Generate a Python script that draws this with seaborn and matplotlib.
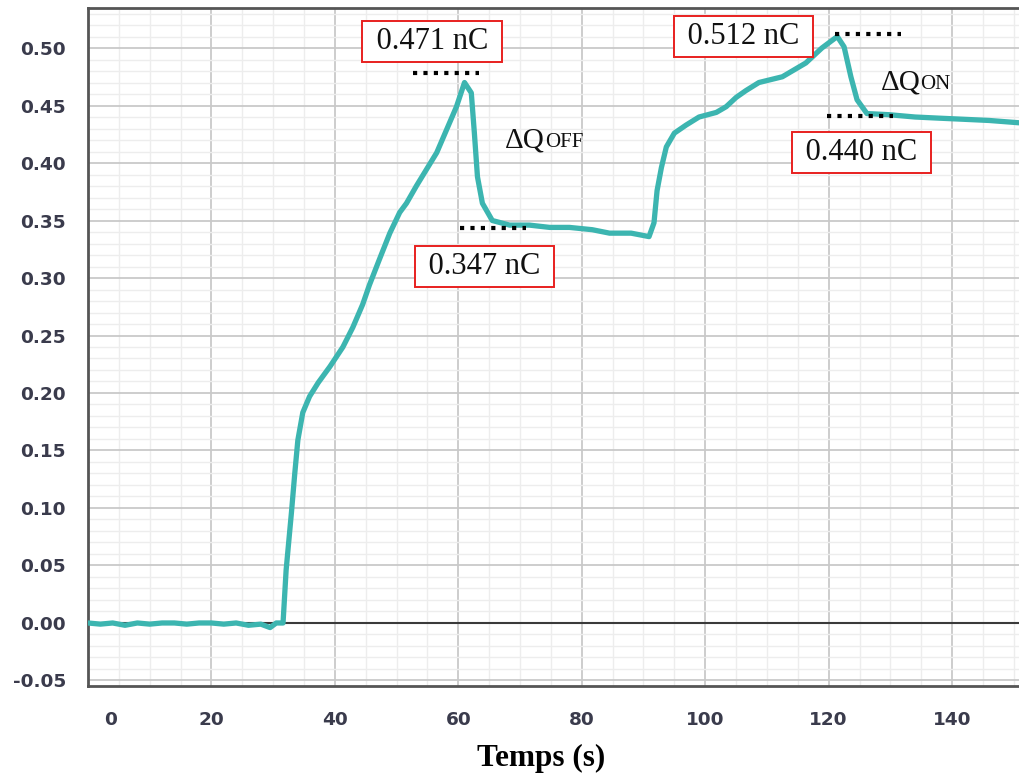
import matplotlib
matplotlib.use("Agg")
import matplotlib.pyplot as plt
import matplotlib.transforms as mtransforms
from matplotlib.ticker import MultipleLocator
import seaborn as sns
import pandas as pd

# ---- data ----
time_s = [0, 2, 4, 6, 8, 10, 12, 14, 16, 18, 20, 22, 24, 26, 28, 29.5, 30.5,
          31.6, 32.1, 32.96, 33.5, 34.0, 34.8, 35.9, 37.3, 39.2, 41.3, 42.9,
          44.5, 45.6, 47.2, 48.9, 50.5, 51.6, 53.2, 56.5, 59.7, 61.0, 62.1,
          62.6, 63.1, 63.9, 65.5, 68.3, 71.5, 74.8, 78, 81.7, 84.5, 88, 90.9,
          91.7, 92.2, 92.9, 93.7, 95.0, 96.9, 99.0, 101.8, 103.4, 105.0, 106.6,
          108.7, 112.5, 116.3, 118.9, 121.4, 122.5, 123.6, 124.6, 126.2, 129.8,
          134, 137.9, 142, 146, 150.8]
charge_nC = [0.000, -0.001, 0.000, -0.002, 0.000, -0.001, 0.000, 0.000, -0.001,
             0.000, 0.000, -0.001, 0.000, -0.002, -0.001, -0.004, 0.000,
             0.000, 0.046, 0.096, 0.130, 0.159, 0.183, 0.197, 0.209, 0.223,
             0.240, 0.257, 0.277, 0.294, 0.316, 0.339, 0.357, 0.365, 0.380,
             0.409, 0.449, 0.470, 0.461, 0.426, 0.388, 0.365, 0.350, 0.346,
             0.346, 0.344, 0.344, 0.342, 0.339, 0.339, 0.336, 0.348, 0.376,
             0.396, 0.414, 0.426, 0.433, 0.440, 0.444, 0.449, 0.457, 0.463,
             0.470, 0.475, 0.487, 0.500, 0.510, 0.501, 0.475, 0.455, 0.443,
             0.442, 0.440, 0.439, 0.438, 0.437, 0.435]

x_ticks = [0, 20, 40, 60, 80, 100, 120, 140]
y_ticks = [-0.05, 0.00, 0.05, 0.10, 0.15, 0.20, 0.25, 0.30, 0.35, 0.40, 0.45, 0.50]
y_tick_labels = ["-0.05", "0.00", "0.05", "0.10", "0.15", "0.20", "0.25",
                 "0.30", "0.35", "0.40", "0.45", "0.50"]

# annotation values: (label, text x, text y)
box_labels = ["0.471 nC", "0.512 nC", "0.347 nC", "0.440 nC"]
box_x = [55.75, 106.2, 64.2, 125.3]
box_y = [0.506, 0.510, 0.310, 0.409]
# level markers: (x start, x end, level)
level_x0 = [52.7, 121.1, 60.3, 119.8]
level_x1 = [63.3, 131.7, 70.9, 130.4]
level_y = [0.4783, 0.5122, 0.3435, 0.4409]
delta_labels = [("\u0394Q", "OFF"), ("\u0394Q", "ON")]
delta_x = [67.6, 128.4]
delta_y = [0.408, 0.459]

df = pd.DataFrame({"Temps (s)": time_s, "Q (nC)": charge_nC})

sns.set_style("white")
plt.rcParams["font.family"] = ["DejaVu Sans"]
SERIF = ["Liberation Serif", "DejaVu Serif"]

fig = plt.figure(figsize=(10.2, 7.83), dpi=100)
ax = fig.add_axes([88 / 1020, 1 - 686 / 783, 1 - 88 / 1020, (686 - 8) / 783])

ax.set_xlim(0, 151.0)
ax.set_ylim(-0.0548, 0.5348)

# grid
ax.xaxis.set_minor_locator(MultipleLocator(5))
ax.yaxis.set_minor_locator(MultipleLocator(0.01))
ax.set_xticks(x_ticks)
ax.set_yticks(y_ticks)
ax.set_yticklabels(y_tick_labels)
ax.grid(True, which="major", color="#c9c9c9", linewidth=1.3, zorder=0)
ax.grid(True, which="minor", color="#ededed", linewidth=1.0, zorder=0)
ax.set_axisbelow(True)
ax.axhline(0, color="#3a3a3a", linewidth=1.5, zorder=1)

sns.lineplot(data=df, x="Temps (s)", y="Q (nC)", ax=ax, color="#3cb5b0",
             linewidth=3.8, estimator=None, sort=False, zorder=3)

# spines
for side in ["left", "bottom", "top"]:
    ax.spines[side].set_color("#555555")
    ax.spines[side].set_linewidth(2.0)
ax.spines["right"].set_visible(False)

ax.tick_params(axis="both", which="major", direction="out", colors="#bdbdbd",
               labelcolor="#3a3b4c", labelsize=13.3)
ax.tick_params(axis="y", which="major", length=11, width=1.2, pad=5)
ax.tick_params(axis="y", which="minor", length=5, width=1.0, colors="#d8d8d8")
ax.tick_params(axis="x", which="major", length=11, width=1.2, pad=7)
ax.tick_params(axis="x", which="minor", length=6, width=1.0, colors="#d8d8d8")
for lab in ax.get_xticklabels() + ax.get_yticklabels():
    lab.set_fontweight("bold")

# shift the "0" label to the right as in the reference
offset = mtransforms.ScaledTranslation(23 / 100, 0, fig.dpi_scale_trans)
first = ax.xaxis.get_major_ticks()[0]
first.label1.set_transform(first.label1.get_transform() + offset)

ax.set_ylabel("")
ax.set_xlabel("Temps (s)", fontsize=22.5, fontweight="bold",
              family=SERIF, color="black")
ax.xaxis.set_label_coords((541 - 88) / 932, (686 - 744) / 678)

# annotation boxes
for lab, x, y in zip(box_labels, box_x, box_y):
    ax.text(x, y, " " + lab + " ", ha="center", va="center", fontsize=22,
            family=SERIF, color="#111111",
            bbox=dict(boxstyle="square,pad=0.2", fc="white", ec="#e8201f", lw=1.4),
            zorder=5)

# level markers (dotted)
for x0, x1, y in zip(level_x0, level_x1, level_y):
    ax.plot([x0, x1], [y, y], color="black", linewidth=3.0,
            linestyle=(0, (1, 1.5)), dash_capstyle="butt", zorder=6)

# delta Q labels
for (main, sub), x, y in zip(delta_labels, delta_x, delta_y):
    t1 = ax.text(x, y, main, ha="left", va="bottom", fontsize=21,
                 family=SERIF, color="#111111", zorder=5)
    ax.annotate(sub, xy=(1, 0), xycoords=t1, ha="left", va="bottom",
                fontsize=15, family=SERIF,
                color="#111111", xytext=(0, 1), textcoords="offset points")

fig.savefig("out.png", dpi=100, facecolor="white")
